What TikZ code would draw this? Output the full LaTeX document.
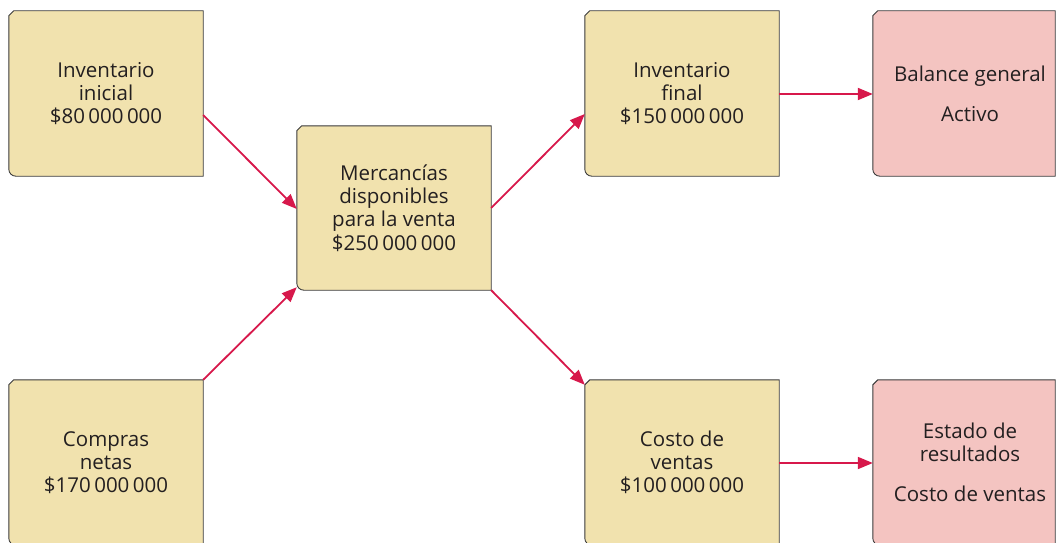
\documentclass[tikz,border=0pt]{standalone}
\usepackage{fontspec}
\setmainfont{Open Sans}
\usetikzlibrary{arrows.meta,backgrounds}
\definecolor{boxyellow}{HTML}{F1E2AE}
\definecolor{boxpink}{HTML}{F4C4C1}
\definecolor{arrowred}{HTML}{D7184B}
\definecolor{edgegray}{HTML}{3A3A3A}
\definecolor{txtgray}{HTML}{231F20}
\tikzset{
  card/.style={draw=none, minimum width=194pt, minimum height=165pt, inner sep=0pt,
    align=center, font=\fontsize{20.5}{23.3}\selectfont, text=txtgray},
  pinkcard/.style={card, minimum width=182pt},
  txt/.style={align=center, font=\fontsize{20.5}{23.3}\selectfont, text=txtgray, inner sep=0pt},
  boxline/.style={draw=edgegray, line width=0.9pt},
  flow/.style={draw=arrowred, line width=1.8pt, -{Triangle[length=15pt,width=12pt]}},
}
\newcommand\cardshape[2]{%
  \draw[boxline,fill=#2] ([xshift=5pt]#1.north west) -- (#1.north east) -- (#1.south east)
    -- ([xshift=7pt]#1.south west) arc[start angle=270,end angle=180,radius=7pt]
    -- ([yshift=-5pt]#1.north west) -- cycle;}
\begin{document}
\begin{tikzpicture}[x=1pt,y=1pt]
\useasboundingbox (0,0) rectangle (1056,542);
\node[card] (ini) at (106,448.5) {Inventario\\inicial\\\$80\,000\,000};
\node[card, minimum height=164pt] (mer) at (394,334) {Mercancías\\disponibles\\para la venta\\\$250\,000\,000};
\node[card] (com) at (106,79.5) {Compras\\netas\\\$170\,000\,000};
\node[card] (fin) at (682,448.5) {Inventario\\final\\\$150\,000\,000};
\node[card] (cos) at (682,79.5) {Costo de\\ventas\\\$100\,000\,000};
\node[pinkcard] (bal) at (964,448.5) {};
\node[pinkcard] (est) at (964,79.5) {};
\node[txt] (baltxt) at (970,448) {Balance general\\[17pt]Activo};
\node[txt] (esttxt) at (970,79.5) {Estado de\\resultados\\[17pt]Costo de ventas};
\begin{pgfonlayer}{background}
\cardshape{ini}{boxyellow}
\cardshape{mer}{boxyellow}
\cardshape{com}{boxyellow}
\cardshape{fin}{boxyellow}
\cardshape{cos}{boxyellow}
\cardshape{bal}{boxpink}
\cardshape{est}{boxpink}
\end{pgfonlayer}
\draw[flow] ([yshift=-21.5pt]ini.east) -- ([yshift=-1pt]mer.west);
\draw[flow] (com.north east) -- ([yshift=3pt]mer.south west);
\draw[flow] (mer.east) -- ([yshift=-20.5pt]fin.west);
\draw[flow] (mer.south east) -- ([yshift=-5pt]cos.north west);
\draw[flow] ([yshift=-0.5pt]fin.east) -- ([yshift=-0.5pt]bal.west);
\draw[flow] ([yshift=-0.5pt]cos.east) -- ([yshift=-0.5pt]est.west);
\end{tikzpicture}
\end{document}
